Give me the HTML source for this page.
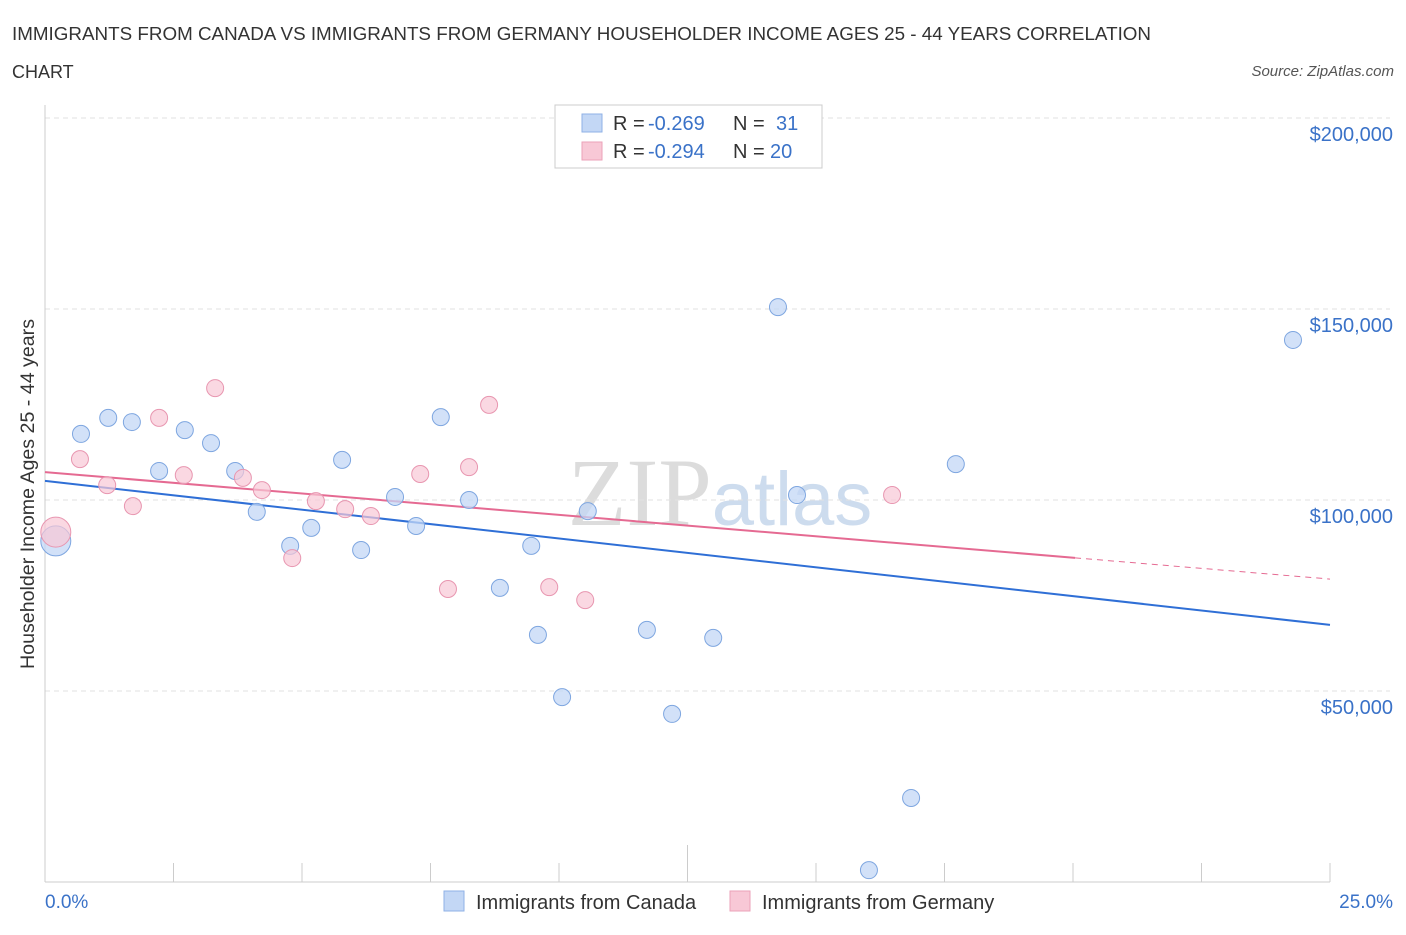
<!DOCTYPE html>
<html><head><meta charset="utf-8"><style>
body{margin:0;background:#fff;font-family:"Liberation Sans",sans-serif;}
</style></head><body>
<svg width="1406" height="930" xmlns="http://www.w3.org/2000/svg" id="svg" font-family="Liberation Sans, sans-serif">
<text x="12" y="40" font-size="18" fill="#333" textLength="1139" lengthAdjust="spacingAndGlyphs">IMMIGRANTS FROM CANADA VS IMMIGRANTS FROM GERMANY HOUSEHOLDER INCOME AGES 25 - 44 YEARS CORRELATION</text>
<text x="12" y="78" font-size="18" fill="#333">CHART</text>
<text x="1394" y="76" font-size="15" fill="#555" text-anchor="end" font-style="italic">Source: ZipAtlas.com</text>
<text x="720" y="525" font-size="96" fill="#dcdcdc" text-anchor="middle" font-family="Liberation Serif, serif">ZIP<tspan fill="#cddcee" font-family="Liberation Sans, sans-serif" font-size="76">atlas</tspan></text>
<g id="grid"></g>
<line x1="45" y1="105" x2="45" y2="882" stroke="#ccc"/>
<line x1="45" y1="882" x2="1330" y2="882" stroke="#ccc"/>
<g id="ticks"></g>
<text transform="translate(34,494) rotate(-90)" font-size="19" fill="#333" text-anchor="middle" textLength="350" lengthAdjust="spacingAndGlyphs">Householder Income Ages 25 - 44 years</text>
<text x="45" y="908" font-size="19" fill="#3a72c8">0.0%</text>
<text x="1393" y="908" font-size="19" fill="#3a72c8" text-anchor="end">25.0%</text>
<g id="lines"></g>
<g id="pts"></g>
<g>
<rect x="555" y="105" width="267" height="63" fill="#fff" stroke="#ccc"/>
<rect x="582" y="114" width="20" height="18" fill="#c3d7f5" stroke="#8fb1e6"/>
<rect x="582" y="142" width="20" height="18" fill="#f8c8d6" stroke="#eba2b8"/>
<text x="613" y="130" font-size="20" fill="#333">R =</text>
<text x="648" y="130" font-size="20" fill="#3a72c8">-0.269</text>
<text x="733" y="130" font-size="20" fill="#333">N =</text>
<text x="776" y="130" font-size="20" fill="#3a72c8">31</text>
<text x="613" y="158" font-size="20" fill="#333">R =</text>
<text x="648" y="158" font-size="20" fill="#3a72c8">-0.294</text>
<text x="733" y="158" font-size="20" fill="#333">N =</text>
<text x="770" y="158" font-size="20" fill="#3a72c8">20</text>
</g>
<g>
<rect x="444" y="891" width="20" height="20" fill="#c3d7f5" stroke="#8fb1e6"/>
<text x="476" y="909" font-size="20" fill="#333">Immigrants from Canada</text>
<rect x="730" y="891" width="20" height="20" fill="#f8c8d6" stroke="#eba2b8"/>
<text x="762" y="909" font-size="20" fill="#333">Immigrants from Germany</text>
</g>
</svg>
<script>
const canadaX=[0.21,0.70,1.23,1.69,2.22,2.72,3.23,3.70,4.12,4.77,5.18,5.78,6.15,6.81,7.22,7.70,8.25,8.85,9.46,9.59,10.06,10.56,11.71,12.20,13.00,14.26,14.63,16.03,16.85,17.72,24.28];
const canadaY=[89.3,117.3,121.5,120.4,107.6,118.3,114.9,107.6,96.9,88.0,92.7,110.5,86.9,100.8,93.2,121.7,100.0,77.0,88.0,64.7,48.4,97.1,66.0,44.0,63.9,150.5,101.3,3.1,22.0,109.4,141.9];
const germanyX=[0.21,0.68,1.21,1.71,2.22,2.70,3.31,3.85,4.22,4.81,5.27,5.84,6.34,7.30,7.84,8.25,8.64,9.81,10.51,16.48];
const germanyY=[91.6,110.7,103.9,98.4,121.5,106.5,129.3,105.8,102.6,84.8,99.7,97.6,95.8,106.8,76.7,108.6,124.9,77.2,73.8,101.3];
const yTicks=[50,100,150,200];
const yTickLabels=["$50,000","$100,000","$150,000","$200,000"];
const canadaTrend=[105.0,67.3];
const germanyTrend=[107.3,79.3];
const germanySolidEnd=20.04;
const NS="http://www.w3.org/2000/svg";
const sx=p=>45+p/25*1285, sy=v=>882-v/50*191;
function mk(tag,attrs,parent){const e=document.createElementNS(NS,tag);for(const k in attrs)e.setAttribute(k,attrs[k]);document.getElementById(parent).appendChild(e);return e;}
yTicks.forEach((t,i)=>{
 const l=mk('line',{x1:45,x2:1390,y1:sy(t),y2:sy(t),stroke:'#e2e2e2','stroke-dasharray':'5,4'},'grid');
 
 
 const tx=mk('text',{x:1393,y:sy(t)+23,'font-size':20,fill:'#3a72c8','text-anchor':'end'},'grid');
 tx.textContent=yTickLabels[i];
 
 
});
for(let i=0;i<=10;i++){
 const x=sx(i*2.5);
 const l=mk('line',{x1:x,x2:x,y1:i==5?845:863,y2:882,stroke:'#ccc'},'ticks');
 
 
}
function lin(a,b,p){return a+(b-a)*p/25;}
let l1=mk('line',{x1:sx(0),y1:sy(canadaTrend[0]),x2:sx(25),y2:sy(canadaTrend[1]),stroke:'#2f6fd6','stroke-width':2},'lines');


let gm=lin(germanyTrend[0],germanyTrend[1],germanySolidEnd);
let l2=mk('line',{x1:sx(0),y1:sy(germanyTrend[0]),x2:sx(germanySolidEnd),y2:sy(gm),stroke:'#e56a92','stroke-width':2},'lines');


let l3=mk('line',{x1:sx(germanySolidEnd),y1:sy(gm),x2:sx(25),y2:sy(germanyTrend[1]),stroke:'#e56a92','stroke-width':1,'stroke-dasharray':'6,5'},'lines');


canadaX.forEach((x,i)=>{
 const c=mk('circle',{cx:sx(x),cy:sy(canadaY[i]),r:i==0?15:8.5,fill:'#c3d7f5','fill-opacity':0.75,stroke:'#7ea6e0','stroke-width':1},'pts');
 
 
});
germanyX.forEach((x,i)=>{
 const c=mk('circle',{cx:sx(x),cy:sy(germanyY[i]),r:i==0?15:8.5,fill:'#f8c8d6','fill-opacity':0.7,stroke:'#e896b0','stroke-width':1},'pts');
 
 
});
</script>
</body></html>
